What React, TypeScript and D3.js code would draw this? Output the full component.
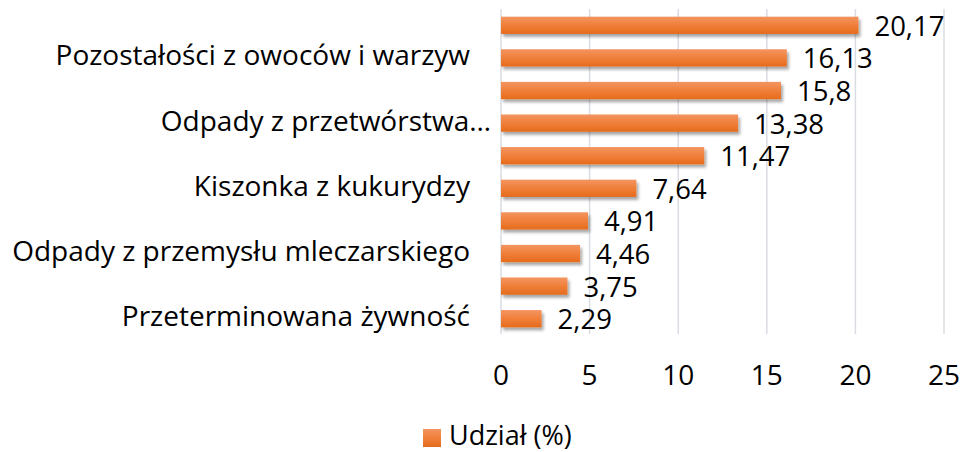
import React from "react";
import * as d3 from "d3";

const categories = [
  "Gnojowica",
  "Pozostałości z owoców i warzyw",
  "Wywar gorzelniany",
  "Odpady z przetwórstwa…",
  "Wysłodki buraczane",
  "Kiszonka z kukurydzy",
  "Obornik",
  "Odpady z przemysłu mleczarskiego",
  "Pozostałe",
  "Przeterminowana żywność",
];
const values = [20.17, 16.13, 15.8, 13.38, 11.47, 7.64, 4.91, 4.46, 3.75, 2.29];
const shownLabel = [false, true, false, true, false, true, false, true, false, true];
const xTicks = [0, 5, 10, 15, 20, 25];
const seriesName = "Udział (%)";

const W = 965;
const H = 452;
const FONT = "'Open Sans', Lato, sans-serif";
const FS = 28;

export default function App() {
  const x = d3.scaleLinear().domain([0, 25]).range([501, 944]);
  const y = d3.scaleBand<string>().domain(categories).range([9, 335]).paddingInner(0.47).paddingOuter(0.235);
  const fmt = (v: number) => String(v).replace(".", ",");
  return (
    <svg width={W} height={H} style={{ position: "absolute", left: 0, top: 0, background: "#fff" }} fontFamily={FONT}>
      <defs>
        <linearGradient id="barGrad" x1="0" y1="0" x2="0" y2="1">
          <stop offset="0" stopColor="#F39561" />
          <stop offset="0.5" stopColor="#F07F3A" />
          <stop offset="1" stopColor="#E56B1C" />
        </linearGradient>
        <filter id="shadow" x="-5%" y="-30%" width="115%" height="180%">
          <feGaussianBlur in="SourceAlpha" stdDeviation="1.5" />
          <feOffset dx="1.5" dy="2.5" result="b" />
          <feComponentTransfer><feFuncA type="linear" slope="0.35" /></feComponentTransfer>
          <feMerge><feMergeNode /><feMergeNode in="SourceGraphic" /></feMerge>
        </filter>
      </defs>
      {xTicks.map((t) => (
        <line key={t} x1={x(t)} x2={x(t)} y1={9} y2={334} stroke="#D9DCE3" strokeWidth={1.5} />
      ))}
      {categories.map((c, i) => (
        <g key={c}>
          <rect x={x(0)} y={y(c)!} width={x(values[i]) - x(0)} height={y.bandwidth()} fill="url(#barGrad)" filter="url(#shadow)" />
          <text x={x(values[i]) + 16} y={y(c)! + y.bandwidth() / 2 + 10.5} fontSize={27.5} fill="#000">
            {fmt(values[i])}
          </text>
          {shownLabel[i] && (
            <text
              x={c.endsWith("…") ? 491 : 470}
              y={y(c)! + y.bandwidth() / 2 + 7.5}
              textAnchor="end"
              fontSize={FS}
              fill="#000"
            >
              {c}
            </text>
          )}
        </g>
      ))}
      {xTicks.map((t) => (
        <text key={"l" + t} x={x(t)} y={385} textAnchor="middle" fontSize={FS} fill="#000">
          {t}
        </text>
      ))}
      <rect x={423} y={429} width={18} height={18} fill="url(#barGrad)" />
      <text x={449} y={445} fontSize={27} fill="#000">{seriesName}</text>
    </svg>
  );
}
